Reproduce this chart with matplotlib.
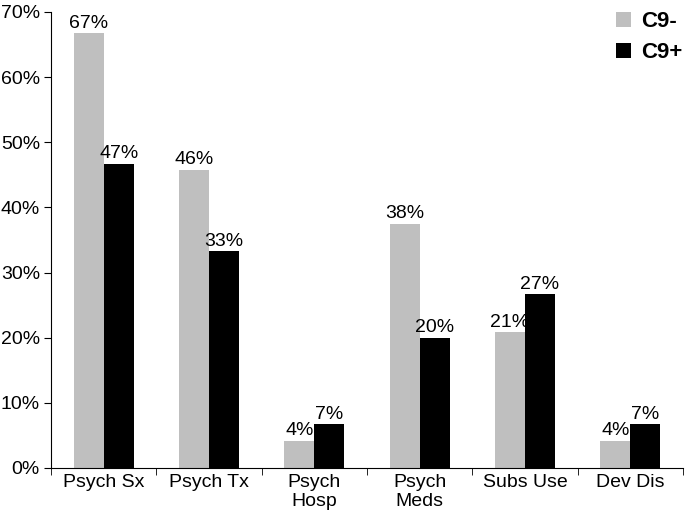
import numpy as np
import matplotlib.pyplot as plt
from matplotlib.ticker import PercentFormatter, FixedLocator

# data (percent)
categories = ["Psych Sx", "Psych Tx", "Psych\nHosp", "Psych\nMeds", "Subs Use", "Dev Dis"]
c9_neg = [66.7, 45.8, 4.2, 37.5, 20.8, 4.2]
c9_pos = [46.7, 33.3, 6.7, 20.0, 26.7, 6.7]
series_names = ["C9-", "C9+"]

plt.rcParams['font.family'] = ['Liberation Sans', 'DejaVu Sans']

fig = plt.figure(figsize=(6.88, 5.14), dpi=100)
ax = fig.add_axes([0.0741, 0.0895, 0.9186, 0.8872])

x = np.arange(len(categories))
w = 0.285
b1 = ax.bar(x - w / 2, c9_neg, w, color="#bfbfbf", label=series_names[0])
b2 = ax.bar(x + w / 2, c9_pos, w, color="#000000", label=series_names[1])

for bars in (b1, b2):
    for rect in bars:
        h = rect.get_height()
        ax.annotate(f"{h:.0f}%", (rect.get_x() + rect.get_width() / 2, h),
                    xytext=(0, 1), textcoords="offset points",
                    ha="center", va="bottom", fontsize=14)

ax.set_xlim(-0.5, len(categories) - 0.5)
ax.set_ylim(0, 70)
ax.set_yticks(np.arange(0, 71, 10))
ax.yaxis.set_major_formatter(PercentFormatter(decimals=0))
ax.tick_params(axis="y", labelsize=14, length=5, direction="out", pad=3)

ax.set_xticks(x)
ax.set_xticklabels(categories, fontsize=14, linespacing=1.2)
ax.tick_params(axis="x", which="major", length=0, pad=4)
ax.xaxis.set_minor_locator(FixedLocator(np.arange(-0.5, len(categories), 1)))
ax.tick_params(axis="x", which="minor", length=5, direction="out")

for s in ("top", "right"):
    ax.spines[s].set_visible(False)

leg = ax.legend(loc="upper right", bbox_to_anchor=(1.03, 1.045), frameon=False,
                handlelength=0.65, handleheight=0.65, handletextpad=0.45,
                labelspacing=0.45, prop={"weight": "bold", "size": 16})

fig.savefig("out.png", dpi=100)
